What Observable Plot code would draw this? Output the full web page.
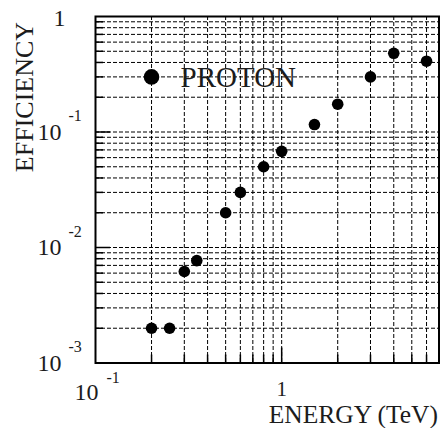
<!DOCTYPE html>
<html>
<head>
<meta charset="utf-8">
<script src="https://cdn.jsdelivr.net/npm/d3@7"></script>
<script src="https://cdn.jsdelivr.net/npm/@observablehq/plot@0.6"></script>
<style>
  html, body { margin: 0; padding: 0; background: #fff; }
  #chart svg { display: block; }
  #chart svg text { font-family: "Liberation Serif", "Times New Roman", serif; }
</style>
</head>
<body>
<div id="chart"></div>
<script>
// ---- data ----
const energy = [0.2, 0.25, 0.3, 0.35, 0.5, 0.6, 0.8, 1.0, 1.5, 2, 3, 4, 6];
const efficiency = [0.0020, 0.0020, 0.0062, 0.0077, 0.020, 0.030, 0.050, 0.068, 0.116, 0.174, 0.30, 0.48, 0.41];

const legendLabel = ["PROTON"];
const legendX = [0.2];
const legendY = [0.3];

// grid / tick positions
const xMinor = [0.2, 0.3, 0.4, 0.5, 0.6, 0.7, 0.8, 0.9, 2, 3, 4, 5, 6, 7];
const xMajor = [1];
const yMinor = [0.002, 0.003, 0.004, 0.005, 0.006, 0.007, 0.008, 0.009,
                0.02, 0.03, 0.04, 0.05, 0.06, 0.07, 0.08, 0.09,
                0.2, 0.3, 0.4, 0.5, 0.6, 0.7, 0.8, 0.9];
const yMajor = [0.01, 0.1];

// tick labels
const yTickValues = [1, 0.1, 0.01, 0.001];
const yTickBase = ["1", "10", "10", "10"];
const yTickExp = ["", "-1", "-2", "-3"];
const xTickValues = [0.1, 1];
const xTickBase = ["10", "1"];
const xTickExp = ["-1", ""];

const xTitle = "ENERGY (TeV)";
const yTitle = "EFFICIENCY";

// ---- build tables ----
const points = energy.map((e, i) => ({e, eff: efficiency[i]}));
const legend = legendLabel.map((l, i) => ({l, x: legendX[i], y: legendY[i]}));
const yTicks = yTickValues.map((v, i) => ({v, base: yTickBase[i], exp: yTickExp[i]}));
const xTicks = xTickValues.map((v, i) => ({v, base: xTickBase[i], exp: xTickExp[i]}));

const W = 441, H = 428;
const mL = 95, mR = 2.5, mT = 16, mB = 65.5;
const plotW = W - mL - mR, plotH = H - mT - mB;
const font = "'Liberation Serif', 'Times New Roman', serif";
const ink = "#1c1c1c";
const T = {fill: ink, fontFamily: font, lineAnchor: "middle"};

const chart = Plot.plot({
  width: W,
  height: H,
  marginLeft: mL, marginRight: mR, marginTop: mT, marginBottom: mB,
  style: {fontFamily: font, background: "#fff"},
  x: {type: "log", domain: [0.1, 7], axis: null},
  y: {type: "log", domain: [0.001, 1], axis: null},
  marks: [
    // dashed grid
    Plot.ruleX(xMinor.concat(xMajor), {x: d => d, stroke: "#000", strokeWidth: 1, strokeDasharray: "4,2"}),
    Plot.ruleY(yMinor.concat(yMajor), {y: d => d, stroke: "#000", strokeWidth: 1, strokeDasharray: "4,2"}),
    // inner ticks
    Plot.tickY(yMinor, {y: d => d, stroke: "#000", strokeWidth: 1.5, insetRight: plotW - 8}),
    Plot.tickY(yMajor, {y: d => d, stroke: "#000", strokeWidth: 1.5, insetRight: plotW - 15}),
    Plot.tickX(xMinor, {x: d => d, stroke: "#000", strokeWidth: 1.5, insetTop: plotH - 8}),
    Plot.tickX(xMajor, {x: d => d, stroke: "#000", strokeWidth: 1.5, insetTop: plotH - 15}),
    Plot.frame({stroke: "#000", strokeWidth: 2}),
    // data
    Plot.dot(points, {x: "e", y: "eff", r: 5.8, fill: "#000", stroke: "none"}),
    // legend
    Plot.dot(legend, {x: "x", y: "y", r: 7.8, fill: "#000", stroke: "none"}),
    Plot.text(legend, {x: "x", y: "y", text: "l", dx: 29, dy: 1, textAnchor: "start", fontSize: 29, ...T}),
    // y tick labels
    Plot.text(yTicks.filter(d => d.exp === ""), {y: "v", text: "base", frameAnchor: "left", dx: -30, dy: 2, textAnchor: "end", fontSize: 24, ...T}),
    Plot.text(yTicks.filter(d => d.exp !== ""), {y: "v", text: "base", frameAnchor: "left", dx: -34, dy: 0, textAnchor: "end", fontSize: 24, ...T}),
    Plot.text(yTicks.filter(d => d.exp !== ""), {y: "v", text: "exp", frameAnchor: "left", dx: -27, dy: -16, textAnchor: "start", fontSize: 16, ...T}),
    // x tick labels
    Plot.text(xTicks.filter(d => d.exp !== ""), {x: "v", text: "base", frameAnchor: "bottom", dx: 3, dy: 29, textAnchor: "end", fontSize: 24, ...T}),
    Plot.text(xTicks.filter(d => d.exp !== ""), {x: "v", text: "exp", frameAnchor: "bottom", dx: 11, dy: 14.5, textAnchor: "start", fontSize: 16, ...T}),
    Plot.text(xTicks.filter(d => d.exp === ""), {x: "v", text: "base", frameAnchor: "bottom", dx: 0, dy: 26, textAnchor: "middle", fontSize: 21, ...T}),
    // axis titles
    Plot.text([xTitle], {text: d => d, frameAnchor: "bottom-right", dx: -1, dy: 52, textAnchor: "end", fontSize: 25.5, ...T}),
    Plot.text([yTitle], {text: d => d, frameAnchor: "top-left", dx: -71, dy: 80.5, rotate: -90, textAnchor: "middle", fontSize: 26, ...T})
  ]
});
document.getElementById("chart").appendChild(chart);
</script>
</body>
</html>
